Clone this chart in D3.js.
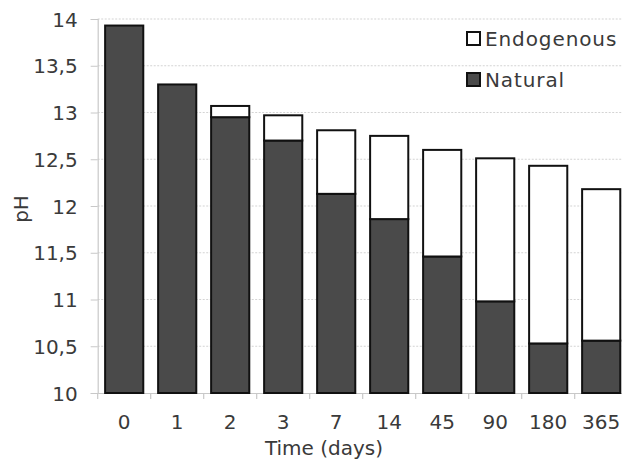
<!DOCTYPE html>
<html><head><meta charset="utf-8">
<script src="https://cdn.jsdelivr.net/npm/d3@7"></script>
<style>body{margin:0;background:#fff}svg{display:block}text{font-family:"DejaVu Sans",sans-serif;fill:#333}</style>
</head><body>
<svg id="c" width="622" height="461"></svg>
<script>
const categories = ["0","1","2","3","7","14","45","90","180","365"];
const natural = [13.93,13.30,12.95,12.70,12.13,11.86,11.46,10.98,10.53,10.56];
const total =   [13.93,13.30,13.07,12.97,12.81,12.75,12.60,12.51,12.43,12.18];
const endogenous = total.map((t,i)=>+(t-natural[i]).toFixed(2));
const yTicks = [10,10.5,11,11.5,12,12.5,13,13.5,14];
const seriesNames = ["Endogenous","Natural"];

const svg = d3.select("#c");
const pL=97.7, pR=627.7, pT=19, pB=393;
const x = d3.scaleBand().domain(categories).range([pL,pR]).paddingInner(0.28).paddingOuter(0.14);
const y = d3.scaleLinear().domain([10,14]).range([pB,pT]);
const fmt = d => String(d).replace(".",",");

// gridlines
svg.append("g").selectAll("line").data(yTicks.filter(d=>d>10)).join("line")
  .attr("x1",pL).attr("x2",622).attr("y1",d=>y(d)).attr("y2",d=>y(d))
  .attr("stroke","#d4d4d4").attr("stroke-width",1.2).attr("stroke-dasharray","2,1.5");

// y axis
const ya = svg.append("g").attr("transform",`translate(${pL},0)`)
  .call(d3.axisLeft(y).tickValues(yTicks).tickFormat(fmt).tickSize(7).tickPadding(13));
ya.select(".domain").attr("stroke","#c8c8c8").attr("stroke-width",1.2);
ya.selectAll(".tick line").attr("stroke","#c8c8c8");
ya.selectAll("text").style("font-size","20px").style("fill","#3a3a3a").attr("dy","0.36em");

// x axis
const xa = svg.append("g").attr("transform",`translate(0,${pB})`)
  .call(d3.axisBottom(x).tickSize(0).tickPadding(22));
xa.select(".domain").attr("stroke","#c8c8c8").attr("stroke-width",1.2);
xa.selectAll("text").style("font-size","20px").style("fill","#3a3a3a");
const step = x.step();
xa.selectAll(".bt").data(d3.range(categories.length+1)).join("line")
  .attr("x1",i=>pL+i*step).attr("x2",i=>pL+i*step).attr("y1",0).attr("y2",6)
  .attr("stroke","#c8c8c8").attr("stroke-width",1.2);

// bars
const g = svg.append("g");
categories.forEach((c,i)=>{
  g.append("rect").attr("x",x(c)).attr("width",x.bandwidth())
    .attr("y",y(natural[i])).attr("height",y(10)-y(natural[i]))
    .attr("fill","#4a4a4a").attr("stroke","#111").attr("stroke-width",2);
  if(endogenous[i]>0){
    g.append("rect").attr("x",x(c)).attr("width",x.bandwidth())
      .attr("y",y(total[i])).attr("height",y(natural[i])-y(total[i]))
      .attr("fill","#fff").attr("stroke","#111").attr("stroke-width",2);
  }
});

// legend
const lg = svg.append("g");
const lfill = ["#fff","#4a4a4a"];
seriesNames.forEach((n,i)=>{
  const yy = 32 + i*41;
  lg.append("rect").attr("x",467).attr("y",yy).attr("width",13).attr("height",13)
    .attr("fill",lfill[i]).attr("stroke","#111").attr("stroke-width",2);
  lg.append("text").attr("x",485).attr("y",yy+14).text(n).style("font-size","20px").style("letter-spacing","0.9px").style("fill","#3a3a3a");
});

// axis titles
svg.append("text").attr("x",324).attr("y",455).attr("text-anchor","middle").text("Time (days)").style("font-size","20px").style("fill","#3a3a3a");
svg.append("text").attr("transform","translate(28,209) rotate(-90)").attr("text-anchor","middle").text("pH").style("font-size","20px").style("fill","#3a3a3a");
</script>
</body></html>
